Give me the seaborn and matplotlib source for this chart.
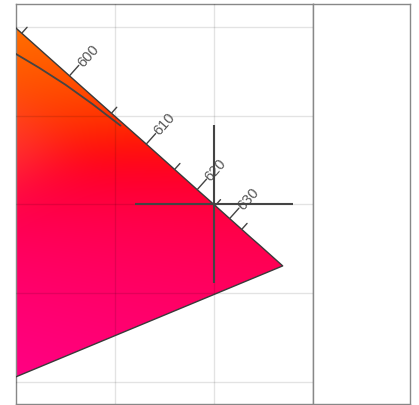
import numpy as np
import pandas as pd
import matplotlib
matplotlib.use("Agg")
import matplotlib.pyplot as plt
import seaborn as sns
from matplotlib.path import Path
from matplotlib.patches import PathPatch

# ---- data (CIE 1931 spectral locus, red corner) ----
wavelengths = [585, 590, 595, 600, 605, 610, 615, 620, 625, 630, 635, 640, 645, 650, 660, 680, 700]
locus_x = [0.5448, 0.5752, 0.6029, 0.6270, 0.6482, 0.6658, 0.6801, 0.6915, 0.7006, 0.7079,
           0.7140, 0.7190, 0.7230, 0.7260, 0.7300, 0.7334, 0.7347]
locus_y = [0.4544, 0.4242, 0.3965, 0.3725, 0.3514, 0.3340, 0.3197, 0.3083, 0.2993, 0.2920,
           0.2859, 0.2809, 0.2770, 0.2740, 0.2700, 0.2666, 0.2653]
purple_end_x = 0.1741
purple_end_y = 0.0050
tick_wl = [595, 600, 605, 610, 615, 620, 625, 630, 635]
label_wl = [600, 610, 620, 630]
planck_T = [1000, 1100, 1200, 1300, 1400, 1500]
planck_x = [0.6528, 0.6387, 0.6251, 0.6116, 0.5985, 0.5857]
planck_y = [0.3444, 0.3565, 0.3674, 0.3771, 0.3858, 0.3931]
marker_x = 0.700
marker_y = 0.300

xlim = (0.60, 0.75)
ylim = (0.1877, 0.413)

sns.set_theme(style="white")
plt.rcParams["font.family"] = ["Liberation Sans", "DejaVu Sans"]

W, H = 419, 406
fig = plt.figure(figsize=(W / 100, H / 100), dpi=100)
fig.patch.set_facecolor("white")
ax = fig.add_axes([16 / W, (H - 404.5) / H, (313 - 16) / W, (404.5 - 5) / H])
ax2 = fig.add_axes([313 / W, (H - 404.5) / H, (409.5 - 313) / W, (404.5 - 5) / H])

ax.set_xlim(*xlim)
ax.set_ylim(*ylim)

# ---- colour fill: xy -> sRGB, out-of-gamut desaturated by adding white ----
ext = (0.54, 0.81, 0.13, 0.47)
nx, ny = 540, 600
gx = np.linspace(ext[0], ext[1], nx)
gy = np.linspace(ext[2], ext[3], ny)
XX, YY = np.meshgrid(gx, gy)
Xc = XX / YY
Zc = (1 - XX - YY) / YY
M = np.array([[3.2406, -1.5372, -0.4986],
              [-0.9689, 1.8758, 0.0415],
              [0.0557, -0.2040, 1.0570]])
XYZ = np.stack([Xc, np.ones_like(Xc), Zc], axis=-1)
rgb = XYZ @ M.T
mn = np.minimum(rgb.min(axis=-1, keepdims=True), 0)
rgb = rgb - mn
rgb = rgb / rgb.max(axis=-1, keepdims=True)
rgb = np.where(rgb <= 0.0031308, 12.92 * rgb, 1.055 * rgb ** (1 / 2.4) - 0.055)
rgb = np.clip(rgb, 0, 1)

# soften the gradient
sig = 22
k = np.arange(-3 * sig, 3 * sig + 1)
ker = np.exp(-0.5 * (k / sig) ** 2)
ker /= ker.sum()
pad = 3 * sig
tmp = np.pad(rgb, ((pad, pad), (0, 0), (0, 0)), mode="edge")
rgb = np.stack([np.apply_along_axis(lambda v: np.convolve(v, ker, mode="valid"), 0, tmp[..., c])
                for c in range(3)], axis=-1)
tmp = np.pad(rgb, ((0, 0), (pad, pad), (0, 0)), mode="edge")
rgb = np.stack([np.apply_along_axis(lambda v: np.convolve(v, ker, mode="valid"), 1, tmp[..., c])
                for c in range(3)], axis=-1)
rgb = np.clip(rgb, 0, 1)

poly = list(zip(locus_x, locus_y)) + [(purple_end_x, purple_end_y), (locus_x[0], locus_y[0])]
clip_path = PathPatch(Path(poly), facecolor="none", edgecolor="none", transform=ax.transData)
ax.add_patch(clip_path)
im = ax.imshow(rgb, origin="lower", extent=list(ext),
               aspect="auto", interpolation="bilinear", zorder=1)
im.set_clip_path(clip_path)

# outline
outline = pd.DataFrame({"x": locus_x + [purple_end_x], "y": locus_y + [purple_end_y]})
sns.lineplot(data=outline, x="x", y="y", sort=False, color="#3a3a3a", lw=1.0, ax=ax, zorder=4)

# planckian locus
pl = pd.DataFrame({"T": planck_T, "x": planck_x, "y": planck_y})
sns.lineplot(data=pl, x="x", y="y", sort=False, color="#444444", lw=1.3, ax=ax, zorder=4)

# grid
for gxv in [0.65, 0.70]:
    ax.axvline(gxv, color="black", alpha=0.11, lw=1.0, zorder=3)
for gyv in [0.20, 0.25, 0.30, 0.35, 0.40]:
    ax.axhline(gyv, color="black", alpha=0.11, lw=1.0, zorder=3)

ax.set_xlim(*xlim)
ax.set_ylim(*ylim)

# wavelength ticks
fig.canvas.draw()
T = ax.transData
Ti = T.inverted()
for wl in tick_wl:
    i = wavelengths.index(wl)
    p0 = T.transform((locus_x[i - 1], locus_y[i - 1]))
    p1 = T.transform((locus_x[i + 1], locus_y[i + 1]))
    t = p1 - p0
    t = t / np.hypot(*t)
    n = np.array([-t[1], t[0]])
    if n[1] < 0:
        n = -n
    p = T.transform((locus_x[i], locus_y[i]))
    L = 14 if wl in label_wl else 8
    q = Ti.transform(p + n * L)
    ax.plot([locus_x[i], q[0]], [locus_y[i], q[1]], color="#444444", lw=1.0, zorder=5)
    if wl in label_wl:
        r = Ti.transform(p + n * 15.5)
        ang = np.degrees(np.arctan2(n[1], n[0]))
        ax.text(r[0], r[1], str(wl), rotation=ang, rotation_mode="anchor",
                ha="left", va="center", fontsize=10.5, color="#555555", zorder=6)

# crosshair marker
ax.plot([marker_x], [marker_y], marker="+", markersize=114, markeredgewidth=1.5,
        color="#444444", zorder=6)

ax.set_xlim(*xlim)
ax.set_ylim(*ylim)

for a in (ax, ax2):
    a.set_xticks([])
    a.set_yticks([])
    a.set_xlabel("")
    a.set_ylabel("")
    for s in a.spines.values():
        s.set_color("#888888")
        s.set_linewidth(1.0)
    a.set_facecolor("white")

fig.savefig("out.png", dpi=100)
